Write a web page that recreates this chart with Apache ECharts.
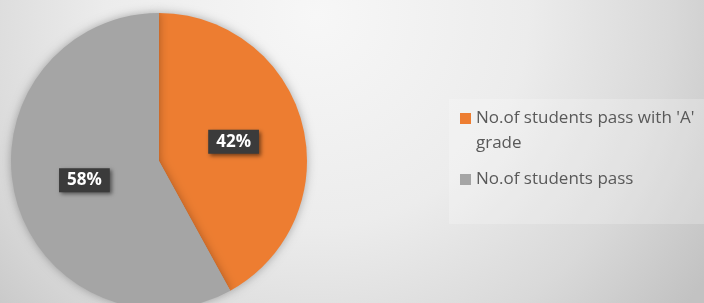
<!DOCTYPE html>
<html>
<head>
<meta charset="utf-8">
<script src="https://cdn.jsdelivr.net/npm/echarts@6/dist/echarts.min.js"></script>
<style>html,body{margin:0;padding:0;}#chart{width:704px;height:303px;}</style>
</head>
<body>
<div id="chart"></div>
<script>
var categories = ["No.of students pass with 'A' grade", "No.of students pass"];
var values = [42, 58];
var colors = ['#ED7D31', '#A5A5A5'];

var chart = echarts.init(document.getElementById('chart'), null, {renderer: 'canvas'});
var option = {
  animation: false,
  graphic: [
    {
      type: 'rect', z: -10, silent: true,
      shape: {x: 0, y: 0, width: 704, height: 303},
      style: {
        fill: new echarts.graphic.RadialGradient(0.45, 0.05, 1.55, [
          {offset: 0, color: '#f7f7f7'},
          {offset: 0.45, color: '#ececec'},
          {offset: 0.75, color: '#d9d9d9'},
          {offset: 1, color: '#c2c2c2'}
        ])
      }
    },
    {
      type: 'rect', z: -5, silent: true,
      shape: {x: 449, y: 99, width: 270, height: 125},
      style: {fill: 'rgba(255,255,255,0.22)'}
    }
  ],
  legend: {
    orient: 'vertical',
    left: 455,
    top: 76,
    itemWidth: 11,
    itemHeight: 11,
    itemGap: 11,
    icon: 'rect',
    data: categories,
    formatter: function (name) {
      return name.length > 22 ? '\n' + name : name;
    },
    textStyle: {
      color: '#595959',
      fontFamily: 'Open Sans',
      fontSize: 17,
      lineHeight: 25,
      width: 250,
      overflow: 'break'
    }
  },
  series: [{
    type: 'pie',
    center: [159, 161],
    radius: 148,
    startAngle: 90,
    clockwise: true,
    color: colors,
    itemStyle: {
      shadowBlur: 10,
      shadowColor: 'rgba(0,0,0,0.3)'
    },
    label: {
      show: true,
      position: 'inside',
      formatter: '{d}%',
      color: '#ffffff',
      fontFamily: 'Open Sans',
      fontWeight: 'bold',
      fontSize: 17,
      lineHeight: 16,
      backgroundColor: '#3b3b3b',
      padding: [4, 8],
      shadowBlur: 4,
      shadowOffsetX: 2,
      shadowOffsetY: 2,
      shadowColor: 'rgba(0,0,0,0.5)'
    },
    labelLine: {show: false},
    emphasis: {disabled: true},
    data: categories.map(function (c, i) { return {name: c, value: values[i]}; })
  }]
};
chart.setOption(option);
</script>
</body>
</html>
